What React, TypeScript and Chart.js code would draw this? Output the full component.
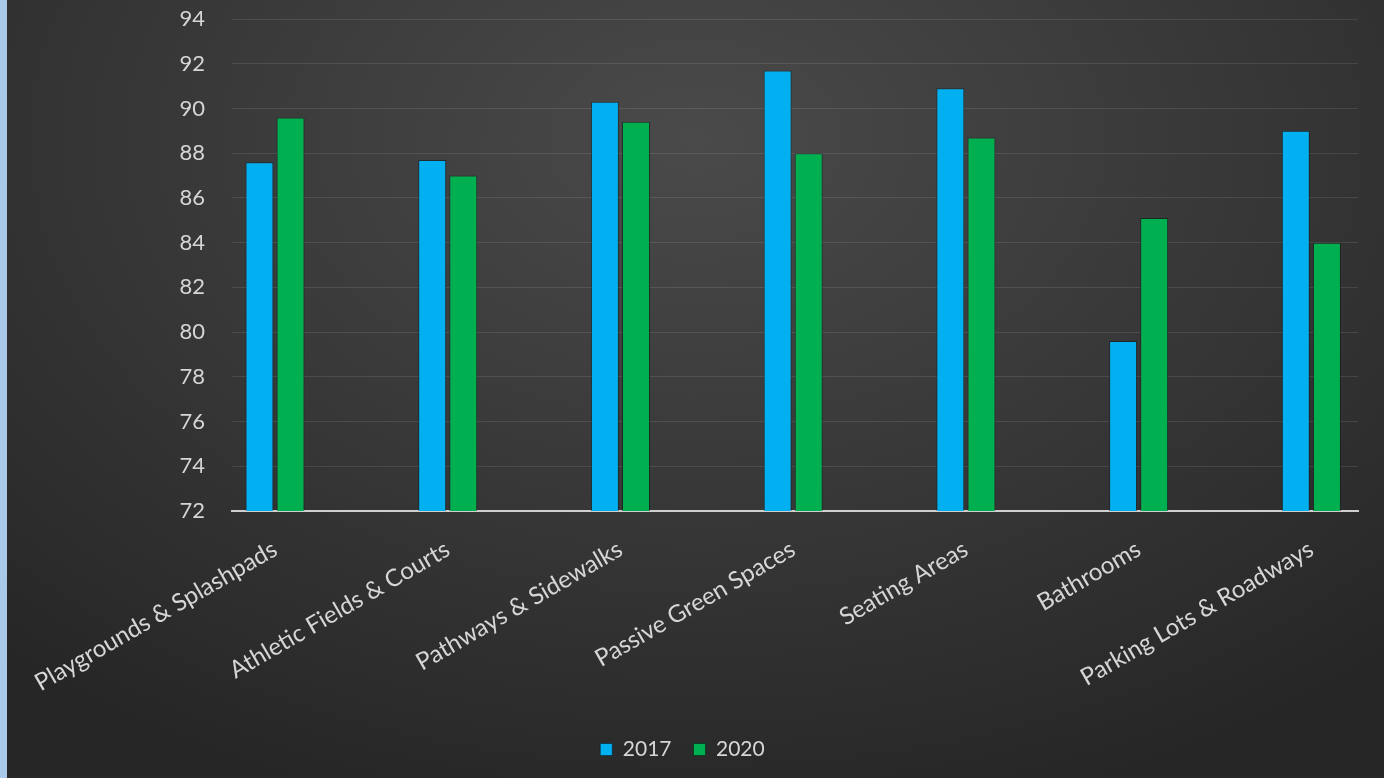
import React, { useEffect, useRef } from "react";
import { Chart, registerables } from "chart.js";

Chart.register(...registerables);

const categories = [
  "Playgrounds & Splashpads",
  "Athletic Fields & Courts",
  "Pathways & Sidewalks",
  "Passive Green Spaces",
  "Seating Areas",
  "Bathrooms",
  "Parking Lots & Roadways",
];
const values2017 = [87.6, 87.7, 90.3, 91.7, 90.9, 79.6, 89.0];
const values2020 = [89.6, 87.0, 89.4, 88.0, 88.7, 85.1, 84.0];
const seriesNames = ["2017", "2020"];
const yMin = 72;
const yMax = 94;
const yStep = 2;

const FONT = "Lato, 'Open Sans', sans-serif";
const TEXT = "#d6d6d6";

export default function App() {
  const ref = useRef<HTMLCanvasElement | null>(null);

  useEffect(() => {
    if (!ref.current) return;
    const chart = new Chart(ref.current, {
      type: "bar",
      data: {
        datasets: [
          {
            label: seriesNames[0],
            data: values2017.map((v, i) => ({ x: i, y: v })),
            backgroundColor: "#00b0f0",
            borderColor: "rgba(0,30,40,0.55)",
            borderWidth: 1,
          },
          {
            label: seriesNames[1],
            data: values2020.map((v, i) => ({ x: i, y: v })),
            backgroundColor: "#00b050",
            borderColor: "rgba(0,30,20,0.55)",
            borderWidth: 1,
          },
        ],
      },
      options: {
        animation: false,
        responsive: true,
        maintainAspectRatio: false,
        layout: { padding: { top: 19, right: 26, left: 0, bottom: 8 } },
        plugins: {
          tooltip: { enabled: false },
          legend: {
            position: "bottom",
            labels: {
              color: TEXT,
              font: { family: FONT, size: 21 },
              boxWidth: 12,
              boxHeight: 12,
              padding: 22,
            },
          },
        },
        datasets: {
          bar: { barPercentage: 0.9, categoryPercentage: 0.36 },
        },
        scales: {
          x: {
            type: "linear",
            offset: false,
            min: -0.249,
            max: 6.27,
            grid: { display: false },
            border: { display: true, color: "#cfcfcf", width: 2 },
            afterFit: (scale: any) => {
              scale.height = 206;
            },
            ticks: {
              stepSize: 1,
              includeBounds: false,
              autoSkip: false,
              minRotation: 30,
              maxRotation: 30,
              padding: 16,
              color: TEXT,
              font: { family: FONT, size: 24 },
              callback: (v: any) =>
                Number.isInteger(v) && categories[v] !== undefined ? categories[v] : null,
            },
          },
          y: {
            min: yMin,
            max: yMax,
            afterFit: (scale: any) => {
              scale.width = 225;
            },
            grid: {
              color: "rgba(255,255,255,0.1)",
              lineWidth: 1,
              drawTicks: true,
              tickLength: 27,
              tickColor: "rgba(0,0,0,0)",
            },
            border: { display: false },
            ticks: {
              stepSize: yStep,
              padding: 0,
              color: TEXT,
              font: { family: FONT, size: 22 },
            },
          },
        },
      },
    });
    return () => chart.destroy();
  }, []);

  return (
    <div
      style={{
        position: "fixed",
        left: 0,
        top: 0,
        width: 1384,
        height: 778,
        background: "#a9c9ea",
      }}
    >
      <div
        style={{
          position: "absolute",
          left: 7,
          top: 0,
          width: 1377,
          height: 778,
          background:
            "radial-gradient(ellipse 75% 90% at 50% 18%, #4a4a4a 0%, #3a3a3a 45%, #262626 100%)",
        }}
      >
        <canvas ref={ref} />
      </div>
    </div>
  );
}
